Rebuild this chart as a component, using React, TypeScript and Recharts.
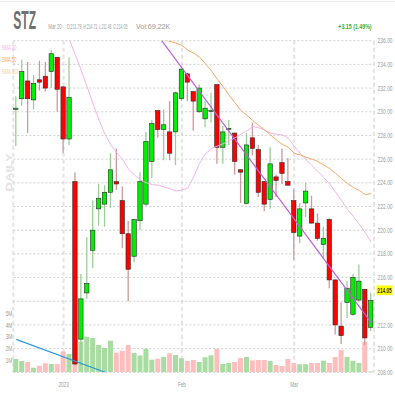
import React from "react";
import {
  ComposedChart,
  Bar,
  Cell,
  Line,
  XAxis,
  YAxis,
  CartesianGrid,
  ReferenceLine,
} from "recharts";

const FONT = "'Liberation Sans', Arial, sans-serif";

const DATES = [
  "Dec 20", "Dec 21", "Dec 22", "Dec 23", "Dec 27", "Dec 28", "Dec 29", "Dec 30",
  "Jan 3", "Jan 4", "Jan 5", "Jan 6", "Jan 9", "Jan 10", "Jan 11", "Jan 12", "Jan 13",
  "Jan 17", "Jan 18", "Jan 19", "Jan 20", "Jan 23", "Jan 24", "Jan 25", "Jan 26", "Jan 27",
  "Jan 30", "Jan 31",
  "Feb 1", "Feb 2", "Feb 3", "Feb 6", "Feb 7", "Feb 8", "Feb 9", "Feb 10", "Feb 13",
  "Feb 14", "Feb 15", "Feb 16", "Feb 17", "Feb 21", "Feb 22", "Feb 23", "Feb 24", "Feb 27",
  "Feb 28",
  "Mar 1", "Mar 2", "Mar 3", "Mar 6", "Mar 7", "Mar 8", "Mar 9", "Mar 10", "Mar 13",
  "Mar 14", "Mar 15", "Mar 16", "Mar 17", "Mar 20",
];

const OPEN = [
  230.2, 231.1, 232.6, 231.0, 232.7, 233.0, 233.4, 234.6, 232.1, 227.7,
  224.1, 210.8, 214.7, 218.3, 221.8, 222.2, 223.2, 224.1, 222.5, 219.7,
  217.8, 220.8, 222.2, 225.8, 230.1, 228.5, 228.3, 228.3, 231.1, 233.2,
  231.7, 230.0, 229.4, 230.05, 232.3, 227.0, 228.5, 228.2, 225.1, 222.25,
  227.8, 226.8, 224.1, 222.6, 224.5, 225.7, 224.1, 222.5, 219.5, 222.3,
  221.8, 220.6, 218.8, 220.9, 215.8, 211.9, 213.9, 212.9, 214.1, 215.0,
  211.79,
];
const HIGH = [
  231.3, 234.4, 234.2, 233.1, 234.3, 234.2, 235.2, 234.65, 232.15, 234.6,
  224.9, 216.3, 219.4, 222.5, 223.9, 223.8, 226.5, 226.9, 223.7, 220.8,
  220.95, 224.9, 228.3, 229.3, 230.15, 230.2, 230.9, 231.7, 233.8, 233.3,
  231.75, 232.3, 230.9, 231.6, 232.35, 228.8, 229.3, 228.25, 225.15, 228.2,
  229.1, 227.2, 224.15, 227.0, 224.7, 226.9, 226.1, 223.5, 222.3, 224.0,
  222.9, 221.4, 220.3, 221.0, 215.85, 213.9, 215.7, 216.3, 217.1, 215.05,
  214.71,
];
const LOW = [
  227.1, 230.5, 228.2, 230.2, 231.8, 231.7, 232.0, 230.0, 226.5, 227.2,
  208.6, 208.5, 214.2, 216.8, 220.4, 220.3, 221.9, 223.4, 218.5, 214.0,
  217.3, 220.0, 222.0, 224.4, 227.8, 225.9, 225.9, 225.5, 230.9, 230.9,
  228.4, 229.9, 228.7, 229.1, 225.6, 225.6, 227.2, 224.7, 222.3, 222.2,
  226.3, 222.8, 221.6, 221.8, 222.8, 223.9, 223.75, 217.5, 218.9, 221.1,
  220.55, 219.1, 217.6, 215.1, 211.2, 210.4, 212.6, 212.8, 213.9, 210.3,
  211.48,
];
const CLOSE = [
  230.3, 233.4, 231.1, 232.4, 232.5, 232.0, 234.9, 231.9, 227.7, 231.2,
  208.7, 214.2, 215.5, 220.0, 222.7, 223.2, 225.1, 223.9, 219.7, 216.7,
  220.9, 224.1, 227.5, 229.0, 228.5, 228.9, 226.5, 231.6, 233.6, 232.5,
  230.9, 232.0, 230.3, 230.1, 227.0, 228.3, 228.6, 225.8, 224.9, 227.2,
  226.9, 223.2, 222.2, 225.6, 224.2, 224.8, 223.8, 219.8, 221.8, 223.3,
  220.6, 219.3, 219.3, 215.8, 212.0, 211.1, 215.1, 216.0, 215.7, 210.9,
  214.05,
];
// millions of shares
const VOLUME = [
  1.13, 0.96, 0.87, 0.39, 0.56, 0.76, 0.7, 0.7, 1.75, 1.55,
  4.2, 2.6, 3.0, 2.9, 2.3, 2.05, 2.66, 1.66, 1.82, 2.31,
  1.62, 1.41, 1.98, 1.05, 1.14, 1.3, 1.61, 1.46, 1.18, 0.96,
  1.04, 0.87, 1.28, 1.45, 1.98, 0.7, 0.78, 0.86, 1.2, 1.3,
  1.0, 1.04, 1.04, 0.95, 0.62, 0.54, 1.13, 0.78, 0.69, 0.69,
  0.78, 0.78, 0.97, 0.78, 1.3, 1.89, 1.3, 0.97, 0.78, 2.57,
  0.069,
];
const SMA20 = [
  null, null, null, null, null, null, null, null, 237.3, 236.06,
  234.8, 233.45, 232.1, 230.65, 229.3, 228.1, 227.2, 226.55, 225.95, 225.15,
  224.65, 224.25, 224.0, 223.85, 223.8, 223.65, 223.5, 223.3, 223.4, 223.55,
  224.5, 225.65, 226.45, 226.9, 227.1, 227.3, 227.55, 227.8, 228.1, 228.4,
  228.75, 228.65, 228.45, 228.2, 228.1, 228.05, 227.75, 227.1, 226.5, 225.95,
  225.45, 224.95, 224.45, 223.9, 223.2, 222.5, 221.75, 221.15, 220.5, 219.8,
  219.0,
];
const SMA50 = [
  null, null, null, null, null, null, null, null, null, null,
  null, null, null, null, null, null, null, null, null, null,
  null, null, null, null, 236.2, 236.05, 235.95, 235.8, 235.6, 235.2,
  234.95, 234.6, 234.05, 233.45, 232.75, 232.1, 231.4, 230.75, 230.1, 229.7,
  229.25, 228.85, 228.45, 228.05, 227.6, 227.25, 227.0, 226.5, 226.35, 226.15,
  226.0, 225.8, 225.5, 225.2, 224.8, 224.35, 223.95, 223.6, 223.35, 223.0,
  223.1,
];
// hand-drawn trend lines: [day index, value]
const TREND_PRICE = [[24, 236.4], [60, 212.2]];
const TREND_VOLUME = [[0, 2.78], [15, 0]];

const PRICE_TICKS = [208, 210, 212, 214, 216, 218, 220, 222, 224, 226, 228, 230, 232, 234, 236];
const HIDDEN_PRICE_TICK = 214;
const VOLUME_TICKS = [1, 2, 3, 4, 5];
const MONTH_TICKS = ["Jan 3", "Feb 1", "Mar 1"];
const MONTH_LABELS = ["2023", "Feb", "Mar"];

const rows = DATES.map((date, i) => ({
  date,
  open: OPEN[i],
  high: HIGH[i],
  low: LOW[i],
  close: CLOSE[i],
  volume: VOLUME[i],
  sma20: SMA20[i],
  sma50: SMA50[i],
  trendP: TREND_PRICE.find((t) => t[0] === i)?.[1] ?? null,
  trendV: TREND_VOLUME.find((t) => t[0] === i)?.[1] ?? null,
}));

const last = rows[rows.length - 1];
const change = last.close - rows[rows.length - 2].close;

// rough Arial advance widths, used to squeeze text into the narrow look of the original
const ADV: Record<string, number> = {
  " ": 0.278, ".": 0.278, ":": 0.278, "(": 0.333, ")": 0.333, "+": 0.584, "%": 0.889,
  A: 0.667, C: 0.722, D: 0.722, F: 0.611, H: 0.722, I: 0.278, K: 0.667, L: 0.556, M: 0.833,
  O: 0.778, S: 0.667, T: 0.611, V: 0.667, Y: 0.667, Z: 0.611, l: 0.222, r: 0.333,
};
const natural = (s: string, size: number) =>
  [...s].reduce((sum, ch) => sum + (ADV[ch] ?? 0.556), 0) * size;

function Narrow({ x, y, w, size, text, fill = "#9a9a9a", bold = false, anchor = "start", rotate = 0 }: any) {
  const sx = w / natural(text, size);
  return (
    <text
      transform={`translate(${x} ${y}) rotate(${rotate}) scale(${sx} 1)`}
      fontSize={size}
      fontWeight={bold ? "bold" : "normal"}
      fill={fill}
      fontFamily={FONT}
      textAnchor={anchor}
    >
      {text}
    </text>
  );
}

function Candle(props: any) {
  const { x, y, width, height, payload } = props;
  const { open, close, high, low } = payload;
  const py = (v: number) => y + ((high - v) / (high - low)) * height;
  const up = close >= open;
  const top = py(Math.max(open, close));
  const bot = py(Math.min(open, close));
  const cx = x + width / 2;
  return (
    <g>
      <line x1={cx} x2={cx} y1={y} y2={y + height} stroke={up ? "#9ccf98" : "#cc9a9a"} strokeWidth={1.3} />
      <rect
        x={x + 0.3}
        y={top}
        width={width - 0.6}
        height={Math.max(bot - top, 1)}
        fill={up ? "#00ee00" : "#ff0000"}
        stroke="#2a2a2a"
        strokeWidth={0.6}
      />
    </g>
  );
}

function PriceTick({ x, y, payload }: any) {
  if (payload.value === HIDDEN_PRICE_TICK) return <g />;
  return <Narrow x={x} y={y + 2.6} w={15} size={7} text={payload.value.toFixed(2)} />;
}

function VolumeTick({ x, y, payload }: any) {
  return <Narrow x={x} y={y + 2.6} w={6.6} size={7} text={payload.value + "M"} anchor="end" />;
}

function MonthTick({ x, y, payload }: any) {
  const label = MONTH_LABELS[MONTH_TICKS.indexOf(payload.value)];
  return <Narrow x={x} y={y + 14.8} w={label.length * 2.6} size={7.5} text={label} anchor="middle" />;
}

function PriceFlag(props: any) {
  const { viewBox } = props;
  const left = viewBox.x + viewBox.width + 2.4;
  const cy = viewBox.y - 10.4;
  return (
    <g>
      <rect x={left} y={cy - 4.8} width={16} height={9.6} fill="#ffff00" />
      <Narrow x={left + 0.8} y={cy + 2.6} w={14.4} size={7} bold fill="#333" text={last.close.toFixed(2)} />
    </g>
  );
}

const infoText = [
  { t: "Mar 20", x: 48.3, w: 13.4 },
  { t: `O:${last.open.toFixed(2)}`, x: 66.7, w: 15.2 },
  { t: `H:${last.high.toFixed(2)}`, x: 83.3, w: 14 },
  { t: `L:${last.low.toFixed(2)}`, x: 99, w: 12.7 },
  { t: `C:${last.close.toFixed(2)}`, x: 113.3, w: 14 },
  { t: "Vol:69.22K", x: 136, w: 34.7 },
];

export default function App() {
  return (
    <div style={{ position: "absolute", left: 0, top: 0, width: 395, height: 395, background: "#fff" }}>
      <ComposedChart width={395} height={395} data={rows} margin={{ top: 40.7, right: 0, bottom: 0, left: 0 }} barGap={-5}>
        <CartesianGrid yAxisId="p" horizontal={false} stroke="#e4e4e4" strokeWidth={2} strokeDasharray="4 3" />
        <CartesianGrid yAxisId="p" vertical={false} stroke="#cfcfcf" strokeDasharray="2 2" />
        <XAxis
          dataKey="date"
          ticks={MONTH_TICKS}
          interval={0}
          height={22.7}
          axisLine={false}
          tickLine={false}
          tickSize={0}
          tickMargin={0}
          tick={<MonthTick />}
        />
        <YAxis
          yAxisId="v"
          orientation="left"
          width={13.3}
          domain={[0, 28]}
          allowDataOverflow
          ticks={VOLUME_TICKS}
          interval={0}
          axisLine={false}
          tickLine={false}
          tickSize={0}
          tickMargin={1}
          tick={<VolumeTick />}
        />
        <YAxis
          yAxisId="p"
          orientation="right"
          width={20.9}
          domain={[208, 236]}
          allowDataOverflow
          ticks={PRICE_TICKS}
          interval={0}
          axisLine={false}
          tickLine={false}
          tickSize={0}
          tickMargin={3.5}
          tick={<PriceTick />}
        />
        <Bar yAxisId="v" dataKey="volume" barSize={5} isAnimationActive={false}>
          {rows.map((r) => (
            <Cell key={r.date} fill={r.close >= r.open ? "#a8dca0" : "#ffbebe"} />
          ))}
        </Bar>
        <Bar
          yAxisId="p"
          dataKey={(r: any) => [r.low, r.high]}
          barSize={5}
          shape={(p: any) => <Candle {...p} />}
          isAnimationActive={false}
        />
        <Line yAxisId="p" dataKey="sma20" stroke="#f3b3ec" strokeWidth={1} dot={false} isAnimationActive={false} />
        <Line yAxisId="p" dataKey="sma50" stroke="#fba766" strokeWidth={1} dot={false} isAnimationActive={false} />
        <Line yAxisId="p" dataKey="trendP" stroke="#c060d8" strokeWidth={1.2} dot={false} connectNulls isAnimationActive={false} />
        <Line yAxisId="v" dataKey="trendV" stroke="#2a9ad8" strokeWidth={1.2} dot={false} connectNulls isAnimationActive={false} />
        <ReferenceLine yAxisId="p" y={last.close} stroke="none" label={(p: any) => <PriceFlag {...p} />} />
      </ComposedChart>
      <svg width={395} height={395} style={{ position: "absolute", left: 0, top: 0, pointerEvents: "none" }}>
        <line x1={0} x2={395} y1={1.5} y2={1.5} stroke="#ececec" />
        <Narrow x={13.3} y={29.3} w={22.7} size={26} bold fill="#707070" text="STZ" />
        {infoText.map((d) => (
          <Narrow key={d.t} x={d.x} y={29.4} w={d.w} size={8} fill="#999" text={d.t} />
        ))}
        <Narrow
          x={338.3}
          y={29.3}
          w={33.4}
          size={8}
          bold
          fill="#33b033"
          text={`+${change.toFixed(2)} (${((change / (last.close - change)) * 100).toFixed(2)}%)`}
        />
        <Narrow x={1.7} y={50} w={15} size={8} fill="#f3b3ec" text="SMA 20" />
        <Narrow x={1.7} y={62} w={15} size={8} fill="#fba766" text="SMA 50" />
        <Narrow x={1.7} y={74} w={17.6} size={8} fill="#f2d3a0" text="SMA 200" />
        <Narrow x={11.6} y={191.5} w={38} size={9} bold fill="#e2e2e2" text="DAILY" rotate={-90} />
      </svg>
    </div>
  );
}
